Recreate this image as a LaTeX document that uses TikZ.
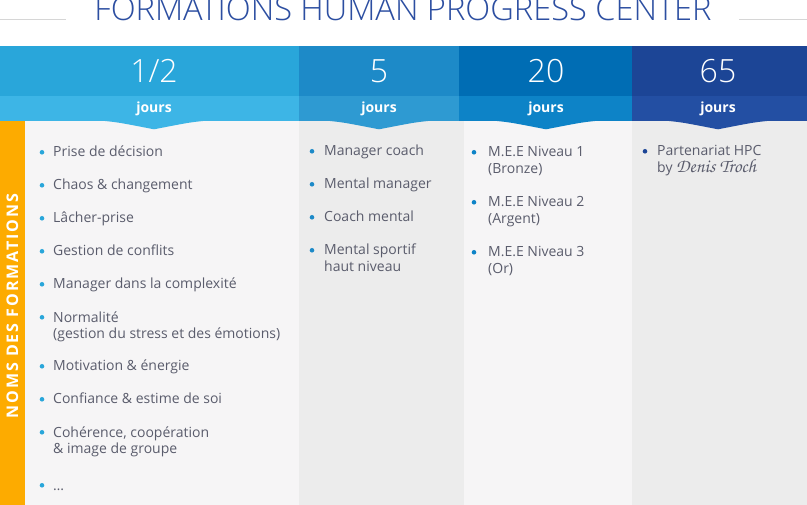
\documentclass[tikz,border=0pt]{standalone}
\usepackage{fontspec}
\setmainfont{Open Sans}
\newfontfamily\lightfont{Open Sans Light}
\newfontfamily\signfont{TeX Gyre Chorus}
\usetikzlibrary{positioning}
\definecolor{titleblue}{HTML}{2C4EA1}
\definecolor{linegray}{HTML}{D6D6D6}
\definecolor{txtgray}{HTML}{5A5C6C}
\definecolor{sideorange}{HTML}{FDAB00}
\definecolor{bodylight}{HTML}{F6F5F6}
\definecolor{bodygray}{HTML}{ECECEC}
\definecolor{topA}{HTML}{29A6DA}\definecolor{botA}{HTML}{3DB5E6}
\definecolor{topB}{HTML}{1D8AC8}\definecolor{botB}{HTML}{2E9AD2}
\definecolor{topC}{HTML}{006DB4}\definecolor{botC}{HTML}{0D83C7}
\definecolor{topD}{HTML}{1C4596}\definecolor{botD}{HTML}{234FA3}
\tikzset{
  num/.style ={text=white, inner sep=0pt, anchor=base, font=\lightfont\fontsize{32}{32}\selectfont},
  jrs/.style ={text=white, inner sep=0pt, anchor=base, font=\bfseries\fontsize{14}{14}\selectfont},
  item/.style={text=txtgray, inner sep=0pt, anchor=base west, align=left, font=\fontsize{14}{16.5}\selectfont},
  dot/.style ={circle, inner sep=0pt, minimum size=4.6pt, fill=#1}
}
\begin{document}
\begin{tikzpicture}[x=1pt,y=-1pt]
\useasboundingbox (0,0) rectangle (807,505);
\fill[white] (0,0) rectangle (807,505);
\node[text=titleblue, inner sep=0pt, anchor=base, font=\lightfont\fontsize{32.6}{32.6}\selectfont] (title) at (403,20.5) {FORMATIONS HUMAN PROGRESS CENTER};
\draw[linegray, line width=1pt] (0,20) -- (66,20) (739,20) -- (807,20);
\fill[bodylight] (25,121) rectangle (299,505);
\fill[bodygray] (299,121) rectangle (464,505);
\fill[bodylight] (464,121) rectangle (632,505);
\fill[bodygray] (632,121) rectangle (807,505);
\fill[sideorange] (0,121) rectangle (25,505);
\foreach \c/\l/\r/\m/\t in {A/0/299/154/1\slash 2, B/299/459/379/5, C/459/632/546/20, D/632/807/718/65} {
  \fill[top\c] (\l,46) rectangle (\r,96);
  \fill[bot\c] (\l,96) rectangle (\r,121);
  \fill[bot\c] (\m-49,121) .. controls (\m-35,122.5) .. (\m,129.3) .. controls (\m+35,122.5) .. (\m+49,121) -- cycle;
  \node[num] (n\c) at (\m,83) {\t};
  \node[jrs] (j\c) at (\m,112.5) {jours};
}
\node[rotate=90, text=white, inner sep=0pt, font=\bfseries\fontsize{16}{16}\selectfont\addfontfeatures{LetterSpace=12}] (side) at (12.5,306) {NOMS DES FORMATIONS};
% \k = extra lines below the first one
\foreach \n/\y/\k/\t in {1/157/0/Prise de décision, 2/190/0/Chaos \& changement, 3/223/0/Lâcher-prise, 4/256/0/Gestion de conflits, 5/289/0/Manager dans la complexité, 6/322/1/{Normalité\\(gestion du stress et des émotions)}, 7/371/0/Motivation \& énergie, 8/404/0/Confiance \& estime de soi, 9/437/1/{Cohérence, coopération\\\& image de groupe}, 10/490/0/…} {
  \node[item] (a\n) at (53,\y+16.5*\k) {\t};
  \node[dot=topA] at (42,\y-4.7) {};
}
\foreach \n/\y/\k/\t in {1/156/0/Manager coach, 2/189/0/Mental manager, 3/222/0/Coach mental, 4/255/1/{Mental sportif\\haut niveau}} {
  \node[item] (b\n) at (324,\y+16.5*\k) {\t};
  \node[dot=topB] at (312,\y-4.7) {};
}
\foreach \n/\y/\t in {1/157/{M.E.E Niveau 1\\(Bronze)}, 2/207/{M.E.E Niveau 2\\(Argent)}, 3/257/{M.E.E Niveau 3\\(Or)}} {
  \node[item] (c\n) at (488,\y+16.5) {\t};
  \node[dot=botC] at (474,\y-4.7) {};
}
\node[item] (d1) at (657,172.5) {Partenariat HPC\\by {\signfont\fontsize{19}{16.5}\selectfont Denis Troch}};
\node[dot=topD] at (645,151.3) {};
\end{tikzpicture}
\end{document}
